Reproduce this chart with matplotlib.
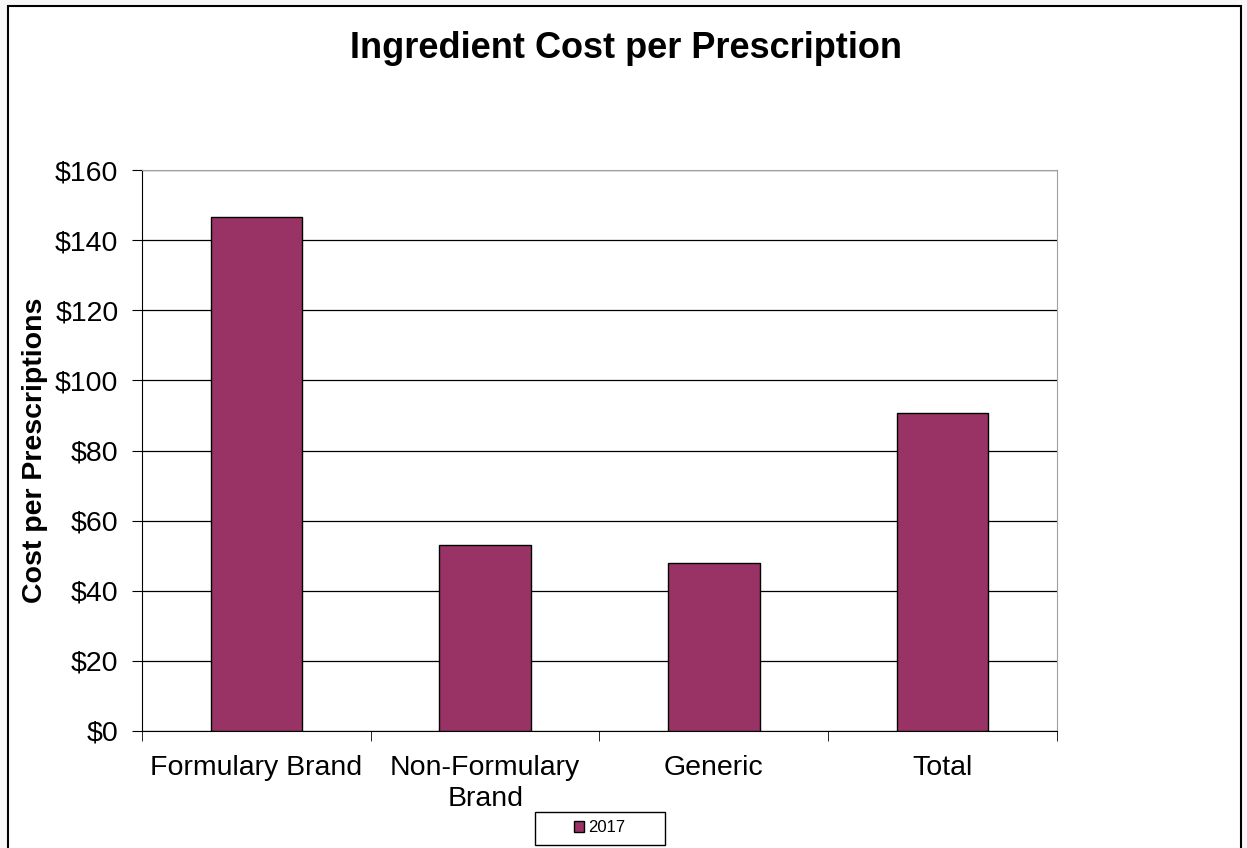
import matplotlib.pyplot as plt
from matplotlib.patches import Rectangle
from matplotlib.ticker import FixedLocator

plt.rcParams['font.family'] = ['Liberation Sans', 'DejaVu Sans']

# Dados
categories = ['Formulary Brand', 'Non-Formulary\nBrand', 'Generic', 'Total']
cost_2017 = [146.7, 53.1, 47.8, 90.6]
yticks = [0, 20, 40, 60, 80, 100, 120, 140, 160]
series_name = '2017'

W, H = 1247, 848
fig = plt.figure(figsize=(W / 100, H / 100), dpi=100)
fig.patch.set_facecolor('#f7f7f7')

# Moldura externa (fundo branco)
fig.patches.append(Rectangle((8 / W, -0.05), 1233 / W, 1.05 - 6 / H,
                             transform=fig.transFigure, facecolor='white',
                             edgecolor='black', linewidth=1.5, zorder=-1))

ax = fig.add_axes([0.1139, 0.138, 0.7337, 0.6615])

x = list(range(len(categories)))
bars = ax.bar(x, cost_2017, width=0.4, color='#993366', edgecolor='black',
              linewidth=1, label=series_name, zorder=3)

ax.set_xlim(-0.5, len(categories) - 0.5)
ax.set_ylim(0, 160)
ax.set_yticks(yticks)
ax.set_yticklabels(['$%d' % v for v in yticks])
ax.yaxis.grid(True, color='black', linewidth=0.9, zorder=0)

ax.set_xticks(x)
ax.set_xticklabels(categories, linespacing=1.25)
ax.xaxis.set_minor_locator(FixedLocator([i - 0.5 for i in range(len(categories) + 1)]))
ax.tick_params(axis='x', which='major', length=0, labelsize=20.5, pad=17)
ax.tick_params(axis='x', which='minor', length=7, direction='out', color='black')
ax.tick_params(axis='y', length=7, direction='out', labelsize=20.5, pad=10, color='black')

ax.spines['left'].set_color('black')
ax.spines['bottom'].set_color('black')
ax.spines['top'].set_color('#a0a0a0')
ax.spines['right'].set_color('#a0a0a0')

ax.set_ylabel('Cost per Prescriptions', fontsize=20.5, fontweight='bold', labelpad=5)
fig.text(626 / W, 1 - 49 / H, 'Ingredient Cost per Prescription', fontsize=26,
         fontweight='bold', ha='center', va='center')

# Legenda
fig.patches.append(Rectangle((535 / W, 1 - 845 / H), 130 / W, 33 / H,
                             transform=fig.transFigure, facecolor='white',
                             edgecolor='black', linewidth=1, zorder=2))
leg = fig.legend(handles=[bars], labels=[series_name], loc='center',
                 bbox_to_anchor=(600 / W, 1 - 828 / H), fontsize=12,
                 frameon=False, handlelength=0.6, handleheight=0.6,
                 handletextpad=0.25, borderaxespad=0)
leg.set_zorder(5)

plt.savefig('out.png', dpi=100)
